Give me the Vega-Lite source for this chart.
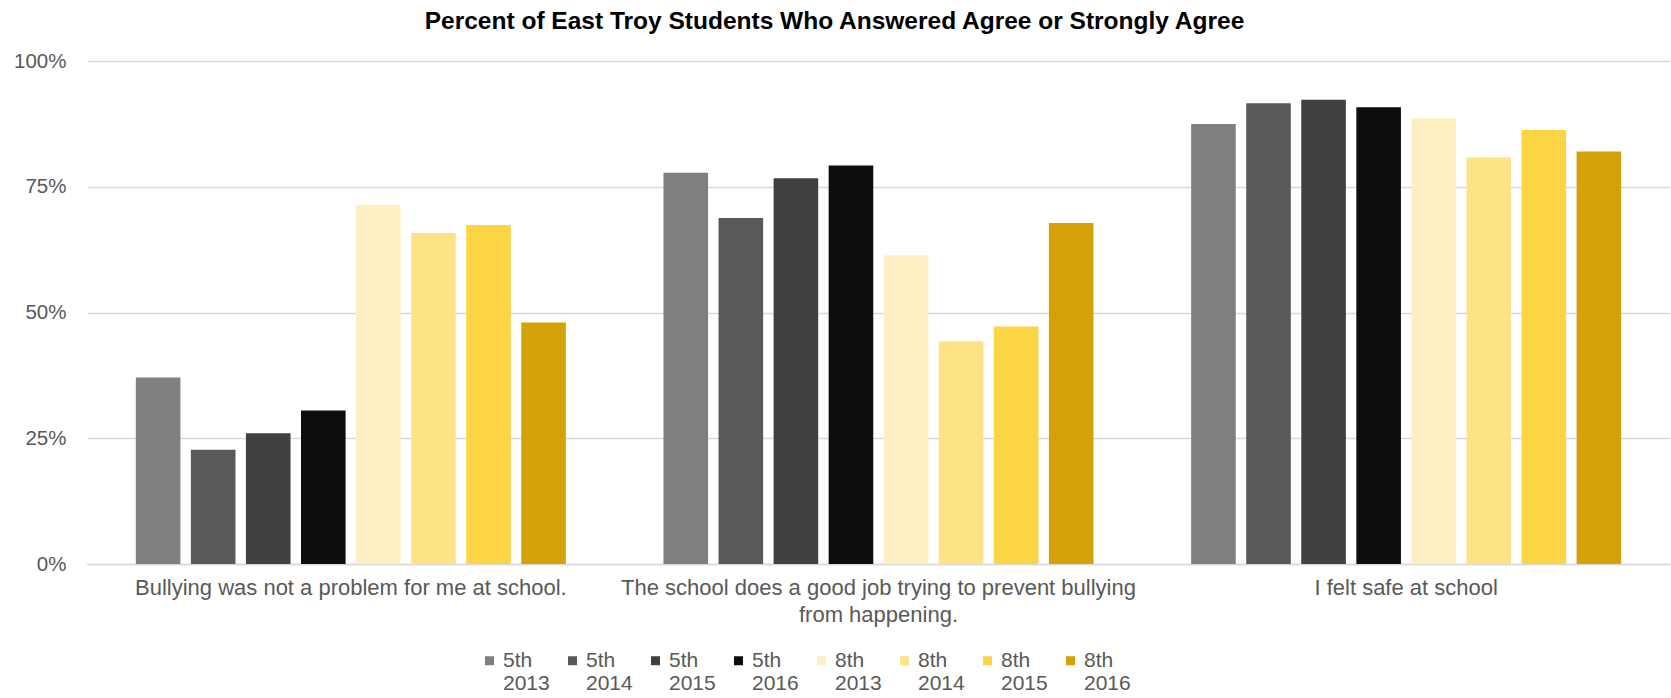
{
  "$schema": "https://vega.github.io/schema/vega-lite/v6.json",
  "autosize": "none",
  "width": 1583,
  "height": 503,
  "padding": {"left": 87, "top": 61, "right": 1, "bottom": 134},
  "background": "white",
  "title": {
    "text": "Percent of East Troy Students Who Answered Agree or Strongly Agree",
    "font": "Liberation Sans",
    "fontSize": 24.5,
    "fontWeight": "bold",
    "color": "#000000",
    "anchor": "middle",
    "frame": "group",
    "dx": -44,
    "offset": 17
  },
  "data": {
    "values": [
      {"q": "Bullying was not a problem for me at school.", "s": "5th 2013", "v": 0.371},
      {"q": "Bullying was not a problem for me at school.", "s": "5th 2014", "v": 0.227},
      {"q": "Bullying was not a problem for me at school.", "s": "5th 2015", "v": 0.260},
      {"q": "Bullying was not a problem for me at school.", "s": "5th 2016", "v": 0.305},
      {"q": "Bullying was not a problem for me at school.", "s": "8th 2013", "v": 0.714},
      {"q": "Bullying was not a problem for me at school.", "s": "8th 2014", "v": 0.658},
      {"q": "Bullying was not a problem for me at school.", "s": "8th 2015", "v": 0.674},
      {"q": "Bullying was not a problem for me at school.", "s": "8th 2016", "v": 0.480},
      {"q": "The school does a good job trying to prevent bullying from happening.", "s": "5th 2013", "v": 0.778},
      {"q": "The school does a good job trying to prevent bullying from happening.", "s": "5th 2014", "v": 0.688},
      {"q": "The school does a good job trying to prevent bullying from happening.", "s": "5th 2015", "v": 0.767},
      {"q": "The school does a good job trying to prevent bullying from happening.", "s": "5th 2016", "v": 0.792},
      {"q": "The school does a good job trying to prevent bullying from happening.", "s": "8th 2013", "v": 0.614},
      {"q": "The school does a good job trying to prevent bullying from happening.", "s": "8th 2014", "v": 0.443},
      {"q": "The school does a good job trying to prevent bullying from happening.", "s": "8th 2015", "v": 0.472},
      {"q": "The school does a good job trying to prevent bullying from happening.", "s": "8th 2016", "v": 0.678},
      {"q": "I felt safe at school", "s": "5th 2013", "v": 0.875},
      {"q": "I felt safe at school", "s": "5th 2014", "v": 0.916},
      {"q": "I felt safe at school", "s": "5th 2015", "v": 0.923},
      {"q": "I felt safe at school", "s": "5th 2016", "v": 0.908},
      {"q": "I felt safe at school", "s": "8th 2013", "v": 0.886},
      {"q": "I felt safe at school", "s": "8th 2014", "v": 0.808},
      {"q": "I felt safe at school", "s": "8th 2015", "v": 0.863},
      {"q": "I felt safe at school", "s": "8th 2016", "v": 0.820}
    ]
  },
  "mark": {"type": "bar"},
  "encoding": {
    "x": {
      "field": "q",
      "type": "nominal",
      "sort": ["Bullying was not a problem for me at school.", "The school does a good job trying to prevent bullying from happening.", "I felt safe at school"],
      "scale": {"paddingInner": 0.185, "paddingOuter": 0.0925},
      "axis": {
        "title": null,
        "labelAngle": 0,
        "labelFont": "Liberation Sans",
        "labelFontSize": 22,
        "labelColor": "#595959",
        "labelPadding": 30,
        "labelBaseline": "alphabetic",
        "labelLineHeight": 27,
        "labelLimit": 0,
        "labelExpr": "datum.label == 'The school does a good job trying to prevent bullying from happening.' ? ['The school does a good job trying to prevent bullying', 'from happening.'] : datum.label",
        "ticks": false,
        "domainColor": "#d9d9d9",
        "domainWidth": 1.5
      }
    },
    "xOffset": {
      "field": "s",
      "type": "nominal",
      "sort": ["5th 2013", "5th 2014", "5th 2015", "5th 2016", "8th 2013", "8th 2014", "8th 2015", "8th 2016"],
      "scale": {"paddingInner": 0.19, "paddingOuter": 0}
    },
    "y": {
      "field": "v",
      "type": "quantitative",
      "scale": {"domain": [0, 1], "nice": false},
      "axis": {
        "title": null,
        "values": [0, 0.25, 0.5, 0.75, 1],
        "format": ".0%",
        "labelFont": "Liberation Sans",
        "labelFontSize": 20.5,
        "labelColor": "#595959",
        "labelPadding": 21,
        "ticks": false,
        "domain": false,
        "gridColor": "#d9d9d9",
        "gridWidth": 1.5
      }
    },
    "color": {
      "field": "s",
      "type": "nominal",
      "scale": {
        "domain": ["5th 2013", "5th 2014", "5th 2015", "5th 2016", "8th 2013", "8th 2014", "8th 2015", "8th 2016"],
        "range": ["#7f7f7f", "#595959", "#404040", "#0d0d0d", "#fff0c4", "#fde385", "#fdd444", "#d4a106"]
      },
      "legend": {
        "title": null,
        "orient": "none",
        "legendX": 392,
        "legendY": 589,
        "padding": 0,
        "direction": "horizontal",
        "columns": 8,
        "columnPadding": 12,
        "symbolType": "square",
        "symbolSize": 81,
        "symbolStrokeWidth": 0,
        "labelFont": "Liberation Sans",
        "labelFontSize": 21,
        "labelColor": "#595959",
        "labelOffset": 3,
        "labelLineHeight": 27,
        "labelExpr": "split(datum.label, ' ')"
      }
    }
  },
  "config": {"view": {"stroke": null}}
}
